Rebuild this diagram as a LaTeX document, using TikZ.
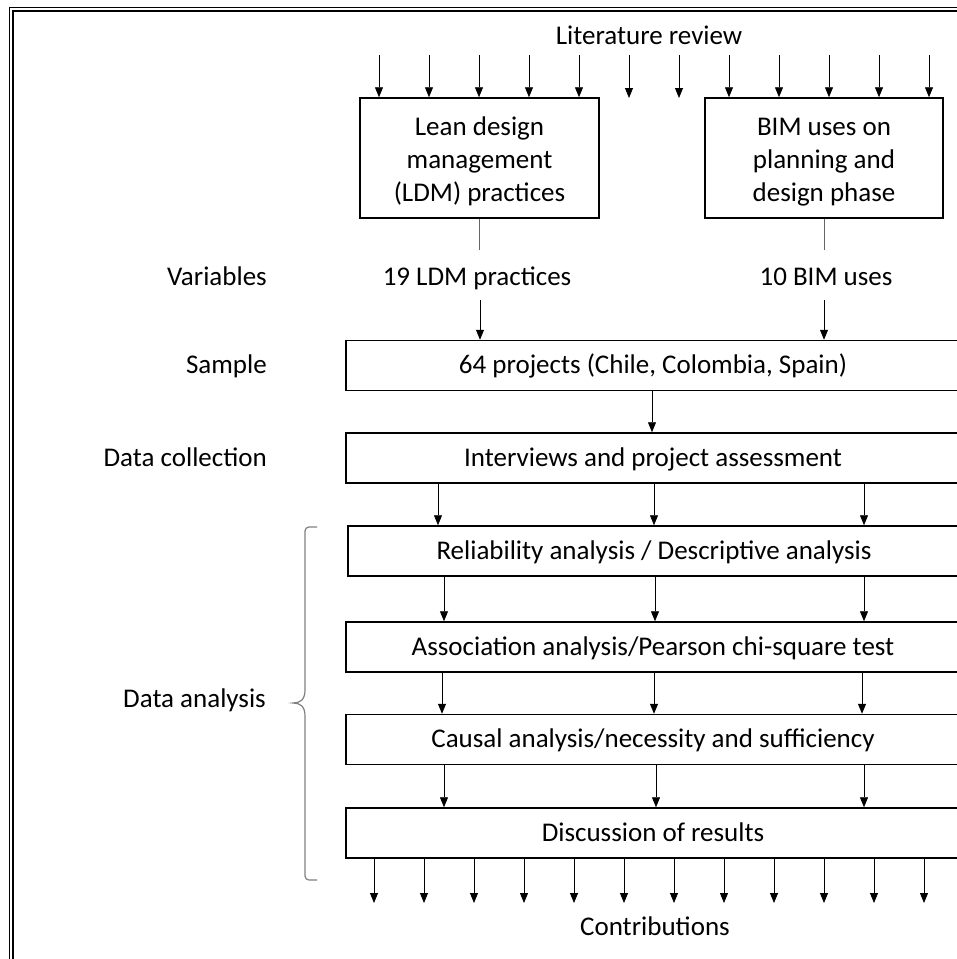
\documentclass[tikz,border=0pt]{standalone}
\usepackage{fontspec}
\setmainfont{Carlito}
\usetikzlibrary{arrows.meta}
\begin{document}
\begin{tikzpicture}[x=1pt,y=-1pt,
  every node/.style={font=\fontsize{27}{33}\selectfont, inner sep=0pt, text=black},
  arr/.style={draw=black, line width=0.8pt, -{Triangle[width=8pt,length=10pt]}},
  plainline/.style={draw=black!60, line width=0.9pt},
  bigbox/.style={draw=black, line width=1.5pt, minimum width=239pt, minimum height=120pt, align=center},
  widebox/.style={draw=black, line width=1.5pt, minimum width=614pt, minimum height=50pt, text height=16pt, text depth=0pt},
  lab/.style={anchor=base east},
  ctr/.style={anchor=base},
  bracestyle/.style={draw=black!50, line width=1.2pt}]
\useasboundingbox (0,0) rectangle (957,959);
\clip (0,0) rectangle (957,959);
% frame (double line, cropped on right and bottom)
\draw[line width=1.3pt] (9.5,1000) -- (9.5,7.5) -- (1000,7.5);
\draw[line width=1.5pt] (12.8,1000) -- (12.8,11) -- (1000,11);
% title
\node[ctr] (lit) at (649,44) {Literature review};
% top boxes
\node[bigbox] (ldm) at (479.5,158) {\rule{0pt}{26pt}Lean design\\management\\(LDM) practices};
\node[bigbox, minimum width=238pt] (bim) at (824,158) {\rule{0pt}{26pt}BIM uses on\\planning and\\design phase};
% top arrows
\foreach \i in {0,...,11}{
  \coordinate (ts\i) at ({379+50*\i},55);
  \coordinate (te\i) at ({379+50*\i},98);
}
\foreach \i in {0,...,4} \draw[arr] (ts\i) -- (ts\i |- ldm.north);
\foreach \i in {5,6} \draw[arr] (ts\i) -- (te\i);
\foreach \i in {7,...,11} \draw[arr] (ts\i) -- (ts\i |- bim.north);
% variables row
\node[lab] (lvar) at (267,285) {Variables};
\node[ctr] (v1) at (477,285) {19 LDM practices};
\node[ctr] (v2) at (826,285) {10 BIM uses};
\coordinate (l1e) at (479.5,250);
\coordinate (l2e) at (824,250);
\draw[plainline] (ldm.south) -- (l1e);
\draw[plainline] (bim.south) -- (l2e);
% wide boxes
\node[widebox] (sam) at (653,365.5) {64 projects (Chile, Colombia, Spain)};
\node[widebox] (int) at (653,458) {Interviews and project assessment};
\node[widebox, minimum width=612pt] (rel) at (654,551) {Reliability analysis / Descriptive analysis};
\node[widebox] (ass) at (653,647) {Association analysis/Pearson chi-square test};
\node[widebox] (cau) at (653,739.5) {Causal analysis/necessity and sufficiency};
\node[widebox] (dis) at (653,833) {Discussion of results};
% labels
\node[lab] (lsam) at (267,373) {Sample};
\node[lab] (ldc) at (267,466) {Data collection};
\node[lab] (lda) at (266,707) {Data analysis};
% arrows into sample
\coordinate (a1) at (480,300);
\coordinate (a2) at (824,300);
\draw[arr] (a1) -- (a1 |- sam.north);
\draw[arr] (a2) -- (a2 |- sam.north);
\coordinate (sx) at (652,0);
\draw[arr] (sam.south -| sx) -- (int.north -| sx);
% arrows between analysis boxes
\foreach \x in {438,654,864}{\coordinate (c) at (\x,0); \draw[arr] (int.south -| c) -- (rel.north -| c);}
\foreach \x in {444,655,864}{\coordinate (c) at (\x,0); \draw[arr] (rel.south -| c) -- (ass.north -| c);}
\foreach \x in {442,654,862}{\coordinate (c) at (\x,0); \draw[arr] (ass.south -| c) -- (cau.north -| c);}
\foreach \x in {444,656,864}{\coordinate (c) at (\x,0); \draw[arr] (cau.south -| c) -- (dis.north -| c);}
% bottom arrows
\foreach \i in {0,...,11}{
  \coordinate (bs\i) at ({374+50*\i},903);
  \draw[arr] (dis.south -| bs\i) -- (bs\i);
}
\node[ctr] (con) at (655,935) {Contributions};
% brace
\draw[bracestyle, rounded corners=4pt] (317,527) -- (305,527) -- (305,690);
\draw[bracestyle] (305,690) .. controls (305,700) and (300,703) .. (293,703) .. controls (300,703) and (305,706) .. (305,716);
\draw[bracestyle, rounded corners=4pt] (305,716) -- (305,880) -- (317,880);
\end{tikzpicture}
\end{document}
